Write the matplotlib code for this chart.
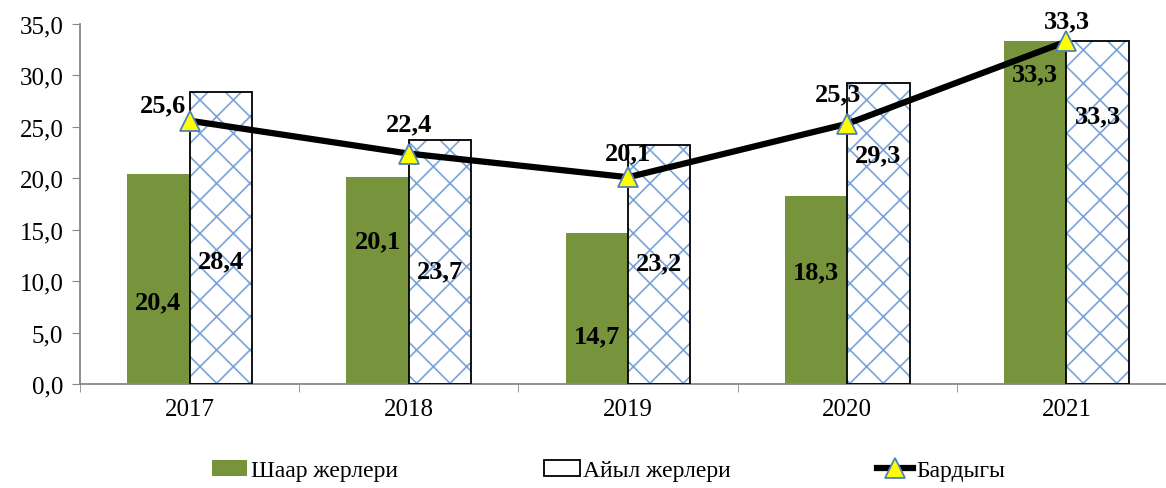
import matplotlib
matplotlib.use('Agg')

import matplotlib.pyplot as plt
from matplotlib.patches import Patch
import numpy as np

# Data
years = ['2017', '2018', '2019', '2020', '2021']
urban = [20.4, 20.1, 14.7, 18.3, 33.3]   # Шаар жерлери
rural = [28.4, 23.7, 23.2, 29.3, 33.3]   # Айыл жерлери
total = [25.6, 22.4, 20.1, 25.3, 33.3]   # Бардыгы

# label placement (y position for bar labels, offsets for line labels)
urban_lab_y = [8.0, 13.9, 4.7, 10.9, 30.2]
rural_lab_y = [12.0, 11.0, 11.8, 22.3, 26.1]
total_lab_off = [(-0.12, 1.5), (0.0, 2.9), (0.0, 2.4), (-0.04, 2.9), (0.0, 2.0)]

plt.rcParams['font.family'] = ['Liberation Serif', 'DejaVu Serif']
plt.rcParams['hatch.linewidth'] = 1.2

def fmt(v):
    return f'{v:.1f}'.replace('.', ',')

fig = plt.figure(figsize=(11.66, 4.89), dpi=100)
ax = fig.add_axes([80/1166, 104/489, 1096/1166, 360/489])

x = np.arange(len(years))
w = 0.285
green = '#77933C'
hatch_blue = '#7AA3D8'

bars_u = ax.bar(x - w/2, urban, w, color=green, edgecolor='none', zorder=2)
ax.bar(x + w/2, rural, w, color='white', edgecolor=hatch_blue, hatch='x', linewidth=0, zorder=2)
ax.bar(x + w/2, rural, w, color='none', edgecolor='black', linewidth=1.3, zorder=3)
rural_proxy = Patch(facecolor='white', edgecolor='black', linewidth=1.3)

line, = ax.plot(x, total, color='black', linewidth=4.5, marker='^', markersize=14,
                markerfacecolor='#FFFF00', markeredgecolor='#4F81BD', markeredgewidth=1.3,
                zorder=5)

lab_kw = dict(fontsize=19, fontweight='bold', ha='center', va='center', zorder=6)
for i in range(len(years)):
    ax.text(x[i] - w/2, urban_lab_y[i], fmt(urban[i]), **lab_kw)
    ax.text(x[i] + w/2, rural_lab_y[i], fmt(rural[i]), **lab_kw)
    dx, dy = total_lab_off[i]
    ax.text(x[i] + dx, total[i] + dy, fmt(total[i]), **lab_kw)

ax.set_xlim(-0.5, 4.5)
ax.set_ylim(0, 35)
yt = np.arange(0, 36, 5)
ax.set_yticks(yt)
ax.set_yticklabels([fmt(v) for v in yt], fontsize=18)
ax.set_xticks(x)
ax.set_xticklabels(years, fontsize=18)
ax.set_xticks(np.arange(-0.5, 5, 1), minor=True)
ax.tick_params(axis='x', which='major', length=0, pad=10)
ax.tick_params(axis='x', which='minor', length=6, color='#888888')
ax.tick_params(axis='y', length=6, color='#888888', pad=6)

for s in ['top', 'right']:
    ax.spines[s].set_visible(False)
for s in ['left', 'bottom']:
    ax.spines[s].set_color('#888888')
    ax.spines[s].set_linewidth(1.3)

fig.legend([bars_u[0], rural_proxy, line], ['Шаар жерлери', 'Айыл жерлери', 'Бардыгы'],
           loc='lower center', bbox_to_anchor=(0.522, -0.03), ncol=3, frameon=False,
           fontsize=17, columnspacing=6.2, handlelength=1.5, handletextpad=0.15)

fig.savefig('out.png', dpi=100)
